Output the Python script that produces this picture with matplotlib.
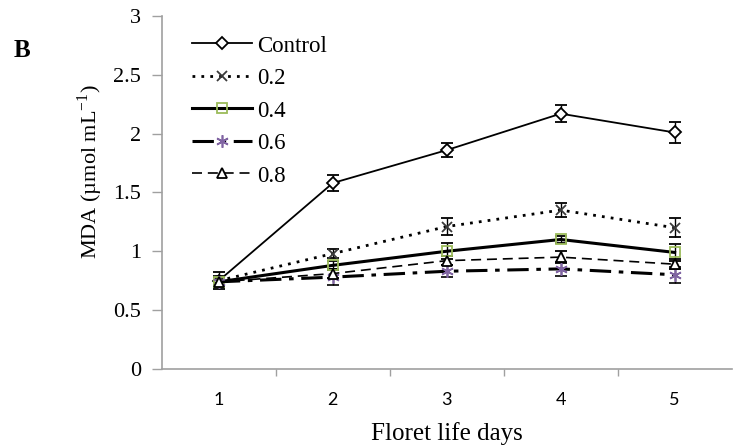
import matplotlib
matplotlib.use("Agg")
import matplotlib.pyplot as plt
from matplotlib.lines import Line2D
from matplotlib.ticker import FixedLocator

days = [1, 2, 3, 4, 5]
day_labels = ["1", "2", "3", "4", "5"]
series_names = ["Control", "0.2", "0.4", "0.6", "0.8"]

control = [0.75, 1.58, 1.86, 2.17, 2.01]
control_err = [0.07, 0.07, 0.06, 0.07, 0.09]
conc_02 = [0.75, 0.98, 1.21, 1.35, 1.20]
conc_02_err = [0.04, 0.04, 0.07, 0.06, 0.08]
conc_04 = [0.74, 0.88, 1.00, 1.10, 0.99]
conc_04_err = [0.04, 0.04, 0.07, 0.03, 0.07]
conc_06 = [0.74, 0.78, 0.83, 0.85, 0.80]
conc_06_err = [0.04, 0.07, 0.05, 0.06, 0.07]
conc_08 = [0.74, 0.81, 0.92, 0.95, 0.89]
conc_08_err = [0.04, 0.04, 0.04, 0.05, 0.04]

plt.rcParams["font.family"] = ["Liberation Serif", "DejaVu Serif"]
plt.rcParams["mathtext.fontset"] = "custom"
plt.rcParams["mathtext.rm"] = "Liberation Serif"

fig = plt.figure(figsize=(7.39, 4.46), dpi=100)
ax = fig.add_axes([0.219, 0.173, 0.771, 0.791])

styles = [
    dict(ls="-", lw=1.3, marker="D", ms=6.5, mfc="white", mec="black", mew=1.3),
    dict(ls=(0, (1, 2.2)), lw=2.0, marker="x", ms=7, mfc="none", mec="#3a3a3a", mew=1.3),
    dict(ls="-", lw=2.2, marker="s", ms=7.5, mfc="none", mec="#9BBB59", mew=1.3),
    dict(ls=(0, (7, 2.5, 1.5, 2.5)), lw=2.2, marker=(6, 2, 0), ms=9, mfc="none", mec="#8064A2", mew=1.2),
    dict(ls=(0, (6, 3.5)), lw=1.2, marker="^", ms=7, mfc="white", mec="black", mew=1.3),
]
values = [control, conc_02, conc_04, conc_06, conc_08]
errors = [control_err, conc_02_err, conc_04_err, conc_06_err, conc_08_err]

handles = []
for name, vals, errs, st in zip(series_names, values, errors, styles):
    ax.errorbar(days, vals, yerr=errs, color="black", ecolor="black",
                elinewidth=1.0, capsize=4, capthick=1.0, **st)
    handles.append(Line2D([], [], color="black", label=name, **st))

ax.set_xlim(0.5, 5.5)
ax.set_ylim(0, 3)
ax.set_yticks([0, 0.5, 1, 1.5, 2, 2.5, 3])
ax.set_yticklabels(["0", "0.5", "1", "1.5", "2", "2.5", "3"], fontsize=16)

ax.xaxis.set_major_locator(FixedLocator(days))
ax.set_xticklabels(day_labels, fontsize=13, family=["Lato", "DejaVu Sans"])
ax.xaxis.set_minor_locator(FixedLocator([1.5, 2.5, 3.5, 4.5]))
ax.tick_params(axis="x", which="major", length=0, pad=17)
ax.tick_params(axis="x", which="minor", length=5, color="#a0a0a0", width=1)
ax.tick_params(axis="y", length=7, color="#a0a0a0", width=1, pad=8)

for side in ["top", "right"]:
    ax.spines[side].set_visible(False)
for side in ["left", "bottom"]:
    ax.spines[side].set_color("#a0a0a0")
    ax.spines[side].set_linewidth(1.2)

ax.set_ylabel("MDA (µmol mL$^{\\mathregular{-1}}$)", fontsize=16)
ax.yaxis.set_label_coords(-0.10, 0.56)
ax.set_xlabel("Floret life days", fontsize=18, labelpad=10)

ax.legend(handles=handles, loc="upper left", bbox_to_anchor=(0.053, 0.945), frameon=False,
          fontsize=16.5, handlelength=2.6, labelspacing=0.5, handletextpad=0.26,
          borderaxespad=0, borderpad=0)

fig.text(0.018, 0.872, "B", fontsize=18, fontweight="bold")

fig.savefig("out.png", dpi=100)
